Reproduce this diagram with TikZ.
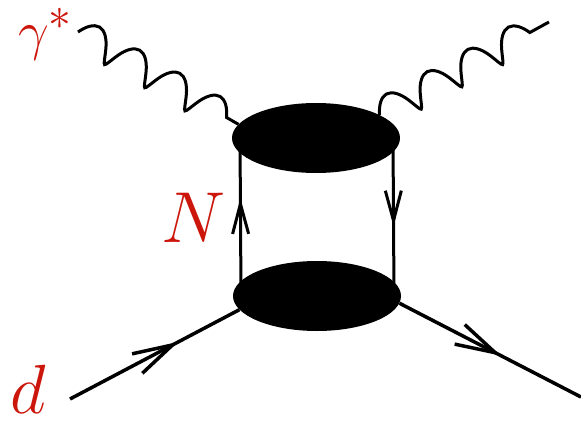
\documentclass[tikz,border=0pt]{standalone}
\usetikzlibrary{shapes.geometric, arrows.meta, decorations.pathmorphing,
                decorations.markings, backgrounds}
\definecolor{labelred}{RGB}{204,22,12}

\begin{document}
\begin{tikzpicture}[x=1pt, y=-1pt,
  blob/.style={ellipse, fill=black, draw=none, inner sep=0pt,
               minimum width=168pt, minimum height=70pt},
  photon/.style={line width=3pt, decorate,
                 decoration={coil, segment length=46.4pt, amplitude=15pt,
                             aspect=0.3}},
  fermion/.style={line width=3.5pt, postaction={decorate},
                  decoration={markings, mark=at position #1 with
                  {\arrow{Straight Barb[length=40pt, width=22pt]}}}},
  nucleon/.style={line width=3pt, postaction={decorate},
                  decoration={markings, mark=at position #1 with
                  {\arrow{Straight Barb[length=30pt, width=16pt]}}}},
  partname/.style={text=labelred, inner sep=0pt, anchor=base west, font=\Huge}
]
  \useasboundingbox (0,0) rectangle (581,423);

  % blobs
  \node[blob] (up) at (316,138) {};
  \node[blob] (lo) at (317,296) {};

  % external points
  \coordinate (gin)  at (78,32);
  \coordinate (gout) at (549,22);
  \coordinate (din)  at (70,399);
  \coordinate (dout) at (581,397);

  \begin{scope}[on background layer]
    \draw[photon] (gin) -- (up.170);
    \draw[photon] (up.20) -- (gout);
    \draw[nucleon=0.62] ([xshift=-76pt]lo.center) -- ([xshift=-76pt]up.center);
    \draw[nucleon=0.56] ([xshift=77pt]up.center) -- ([xshift=77pt]lo.center);
    \draw[fermion=0.64] (din) -- (lo.190);
    \draw[fermion=0.56] (lo.-5) -- (dout);
  \end{scope}

  % labels
  \node[partname] (gam) at (18,49) {\scalebox{2.2}{$\gamma^*$}};
  \node[partname] (N) at (161,242) {\scalebox{2.9}{$N$}};
  \node[partname] (d) at (10,413) {\scalebox{2.8}{$d$}};
\end{tikzpicture}
\end{document}
